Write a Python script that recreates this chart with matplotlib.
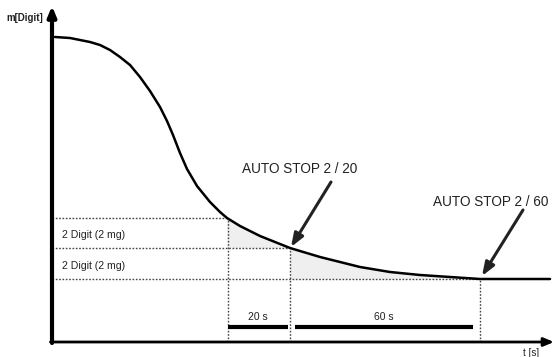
import numpy as np
import matplotlib
matplotlib.use('Agg')
import matplotlib.pyplot as plt

plt.rcParams['font.family'] = ['Liberation Sans', 'DejaVu Sans']

# weighing curve (time, mass in arbitrary units)
curve_t = [3, 18, 38, 48, 58, 68, 78, 88, 98, 108, 115, 121, 128, 135, 145, 158, 168, 175,
           188, 208, 238, 268, 308, 338, 368, 398, 428, 463, 498]
curve_m = [305, 304, 300, 297, 292, 285, 277, 265, 251, 235, 221, 207, 189, 173, 156, 140, 130, 124,
           116, 106, 94, 85, 75, 70, 67, 65, 63, 63, 63]

# stop levels and times
level_m = [124, 94, 63]
stop_t = [176, 238, 428]
band_labels = ['2 Digit (2 mg)', '2 Digit (2 mg)']
interval_labels = ['20 s', '60 s']
stop_labels = ['AUTO STOP 2 / 20', 'AUTO STOP 2 / 60']

fig = plt.figure(figsize=(5.56, 3.57), dpi=100)
ax = fig.add_axes([0, 0, 1, 1])
ax.set_xlim(-52, 504)
ax.set_ylim(-15, 342)
ax.axis('off')

t = np.array(curve_t)
m = np.array(curve_m)

# shaded areas under the curve
sel1 = (t >= stop_t[0] - 1) & (t <= stop_t[1])
ax.fill_between(t[sel1], m[sel1], level_m[1], color='#efefef', lw=0)
sel2 = (t >= stop_t[1]) & (t <= stop_t[2])
ax.fill_between(t[sel2], m[sel2], level_m[2], color='#efefef', lw=0)

# dotted guide lines
for lv, st in zip(level_m, stop_t):
    ax.plot([0, st], [lv, lv], ls=(0, (1.2, 1.2)), color='#444444', lw=1.0)
    ax.plot([st, st], [0, lv], ls=(0, (1.2, 1.2)), color='#444444', lw=1.0)

# curve
ax.plot(t, m, color='black', lw=1.8, solid_capstyle='round', solid_joinstyle='round')

# axes arrows
ax.annotate('', xy=(0, 336), xytext=(0, -1),
            arrowprops=dict(arrowstyle='-|>,head_length=0.6,head_width=0.25', lw=3, color='black', shrinkA=0, shrinkB=0))
ax.annotate('', xy=(502, 0), xytext=(-1.5, 0),
            arrowprops=dict(arrowstyle='-|>,head_length=0.6,head_width=0.25', lw=2, color='black', shrinkA=0, shrinkB=0))
ax.text(-27, 324, 'm[Digit]', fontsize=7, ha='center', va='center', fontweight='bold', color='#222222')
ax.text(479, -11, 't [s]', fontsize=7, ha='center', va='center', color='#222222')

# band labels
for lbl, y in zip(band_labels, [107, 76]):
    ax.text(10, y, lbl, fontsize=7.6, ha='left', va='center', color='#222222')

# interval bars
bars = [(stop_t[0], stop_t[1] - 2), (stop_t[1] + 5, stop_t[2] - 7)]
for (a, b), lbl in zip(bars, interval_labels):
    ax.plot([a, b], [15, 15], color='black', lw=3, solid_capstyle='butt')
    ax.text((a + b) / 2, 25, lbl, fontsize=7.5, ha='center', va='center', color='#222222')

# auto stop arrows
ax.text(190, 173, stop_labels[0], fontsize=9.8, ha='left', va='center', color='#222222')
ax.annotate('', xy=(stop_t[1] + 1, level_m[1] + 1), xytext=(279, 160),
            arrowprops=dict(arrowstyle='-|>,head_length=0.8,head_width=0.3', lw=2.2, color='#222222', shrinkA=0, shrinkB=0))
ax.text(381, 140, stop_labels[1], fontsize=9.8, ha='left', va='center', color='#222222')
ax.annotate('', xy=(stop_t[2] + 2, level_m[2] + 3), xytext=(471, 132),
            arrowprops=dict(arrowstyle='-|>,head_length=0.8,head_width=0.3', lw=2.2, color='#222222', shrinkA=0, shrinkB=0))

fig.savefig('out.png', dpi=100)
